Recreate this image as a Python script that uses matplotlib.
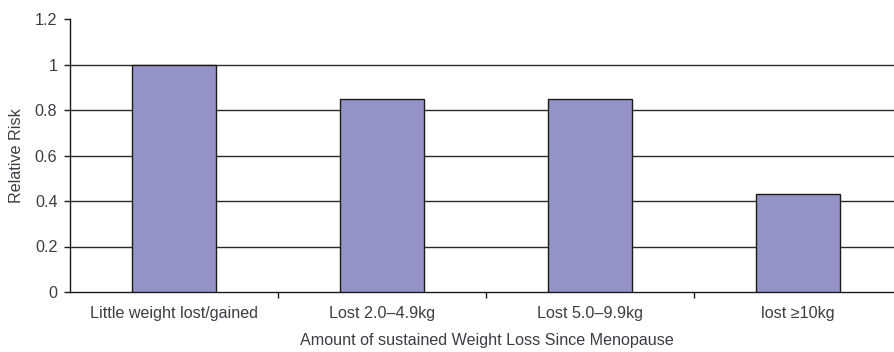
import numpy as np
import matplotlib
matplotlib.use("Agg")
import matplotlib.pyplot as plt

plt.rcParams['font.family'] = ['Liberation Sans', 'DejaVu Sans']

# - - - - - - - DATA - - - - - - - #
categories = ["Little weight lost/gained", "Lost 2.0\u20134.9kg", "Lost 5.0\u20139.9kg", "lost \u226510kg"]
relative_risk = [1.0, 0.85, 0.85, 0.43]
y_ticks = [0, 0.2, 0.4, 0.6, 0.8, 1, 1.2]
y_tick_labels = ["0", "0.2", "0.4", "0.6", "0.8", "1", "1.2"]

text_col = "#3c3c44"
fs = 11.6

fig = plt.figure(figsize=(8.95, 3.52), dpi=100)
# axis runs a bit past the right edge of the picture, like the original crop
ax = fig.add_axes([70 / 895, 60 / 352, 825 / 895, 273 / 352])

x = np.arange(len(categories))
ax.bar(x, relative_risk, width=0.404, color="#9393c7", edgecolor="#1a1a1a", linewidth=1.0, zorder=3)

for t in y_ticks[1:-1]:
    ax.axhline(t, color="#2a2a2a", linewidth=1.0, zorder=1)

ax.set_xlim(-0.5, -0.5 + 825 / 208)
ax.set_ylim(0, 1.2)

ax.set_yticks(y_ticks)
ax.set_yticklabels(y_tick_labels)

# category boundaries get the tick marks, labels sit at the bar centres
ax.set_xticks([0.5, 1.5, 2.5])
ax.set_xticklabels([])
ax.set_xticks(x, minor=True)
ax.set_xticklabels(categories, minor=True)
ax.tick_params(axis="x", which="minor", length=0, pad=10, labelsize=fs, labelcolor=text_col)
ax.tick_params(axis="x", which="major", length=4, width=1, color="#1a1a1a", direction="out")
ax.tick_params(axis="y", length=4, width=1, color="#1a1a1a", direction="out", pad=5,
               labelsize=fs, labelcolor=text_col)

for side in ["top", "right"]:
    ax.spines[side].set_visible(False)
for side in ["left", "bottom"]:
    ax.spines[side].set_color("#1a1a1a")
    ax.spines[side].set_linewidth(1.0)

ax.set_ylabel("Relative Risk", fontsize=fs, color=text_col)
ax.yaxis.set_label_coords(-46 / 825, 0.5)
ax.set_xlabel("Amount of sustained Weight Loss Since Menopause", fontsize=fs, color=text_col)
ax.xaxis.set_label_coords((487 - 70) / 825, -41 / 273)

plt.savefig("out.png", dpi=100)
